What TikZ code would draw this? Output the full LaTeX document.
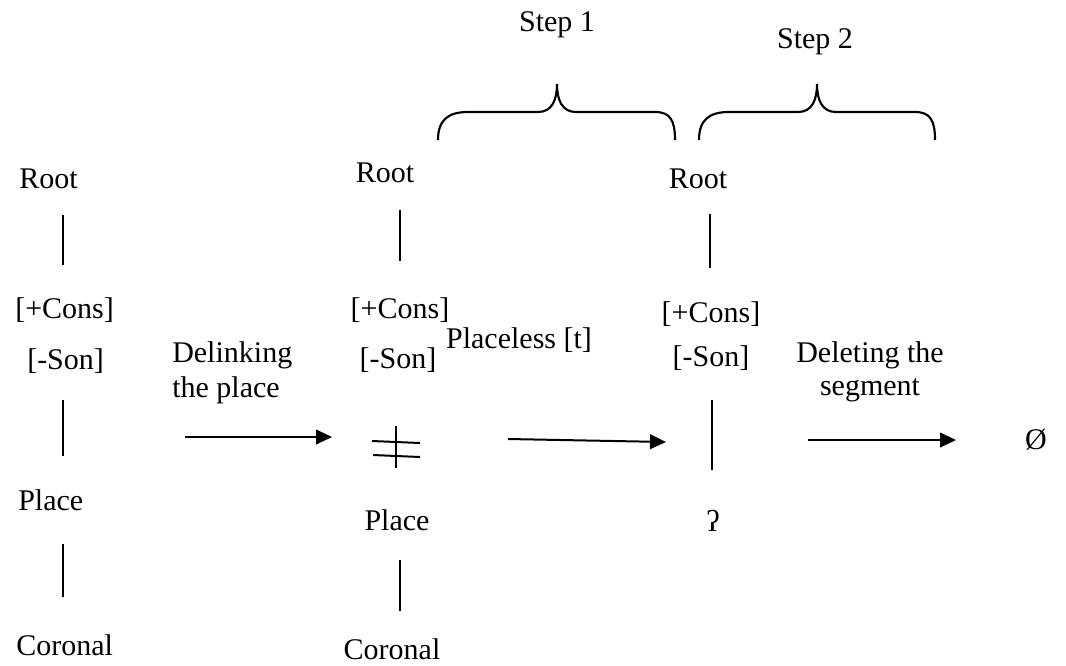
\documentclass[tikz,border=0pt]{standalone}
\usepackage{fontspec}
\setmainfont{Liberation Serif}
\usetikzlibrary{arrows.meta}
\begin{document}
\begin{tikzpicture}[x=0.75pt,y=-0.75pt,
  lbl/.style={inner sep=0pt,font=\fontsize{22.5}{27}\selectfont},
  ln/.style={line width=1.5pt},
  arr/.style={line width=1.5pt,-{Triangle[length=12pt,width=11pt]}},
  brc/.style={line width=1.6pt}]
\useasboundingbox (0,0) rectangle (1066,665);
% column 1
\node[lbl,anchor=west] (r1) at (19,179) {Root};
\node[lbl,anchor=west] (c1) at (15,310) {[+Cons]};
\node[lbl,anchor=west] (s1) at (27,361) {[-Son]};
\node[lbl,anchor=west] (p1) at (18,500) {Place};
\node[lbl,anchor=west] (k1) at (16,645) {Coronal};
\coordinate (a1t) at (63,215); \coordinate (a1b) at (63,265);
\coordinate (b1t) at (63,400); \coordinate (b1b) at (63,456);
\coordinate (d1t) at (63,544); \coordinate (d1b) at (63,597);
\draw[ln] (a1t) -- (a1b);
\draw[ln] (b1t) -- (b1b);
\draw[ln] (d1t) -- (d1b);
% column 2
\node[lbl] (r2) at (385,173) {Root};
\node[lbl] (c2) at (400,310) {[+Cons]};
\node[lbl] (s2) at (398,360) {[-Son]};
\node[lbl] (p2) at (397,520) {Place};
\node[lbl] (k2) at (392,649) {Coronal};
\coordinate (a2t) at (400,210); \coordinate (a2b) at (400,261);
\coordinate (b2t) at (396,426); \coordinate (b2b) at (396,468);
\coordinate (d2t) at (400,560); \coordinate (d2b) at (400,611);
\coordinate (x1l) at (372,441); \coordinate (x1r) at (420,443);
\coordinate (x2l) at (373,455); \coordinate (x2r) at (420,457);
\draw[ln] (a2t) -- (a2b);
\draw[ln] (b2t) -- (b2b);
\draw[ln] (x1l) -- (x1r);
\draw[ln] (x2l) -- (x2r);
\draw[ln] (d2t) -- (d2b);
% column 3
\node[lbl] (r3) at (698,179) {Root};
\node[lbl] (c3) at (711,314) {[+Cons]};
\node[lbl] (s3) at (711,358) {[-Son]};
\node[lbl] (g3) at (713,521) {ʔ};
\coordinate (a3t) at (710,214); \coordinate (a3b) at (710,268);
\coordinate (b3t) at (712,400); \coordinate (b3b) at (712,470);
\draw[ln] (a3t) -- (a3b);
\draw[ln] (b3t) -- (b3b);
% final
\node[lbl] (z) at (1036,440) {Ø};
% arrows
\coordinate (e1s) at (185,437); \coordinate (e1e) at (332,437);
\coordinate (e2s) at (508,439); \coordinate (e2e) at (666,442);
\coordinate (e3s) at (808,440); \coordinate (e3e) at (956,440);
\draw[arr] (e1s) -- (e1e);
\draw[arr] (e2s) -- (e2e);
\draw[arr] (e3s) -- (e3e);
\node[lbl,anchor=west] (t1a) at (172,355) {Delinking};
\node[lbl,anchor=west] (t1b) at (172,390) {the place};
\node[lbl] (t2) at (519,340) {Placeless [t]};
\node[lbl] (t3a) at (870,355) {Deleting the};
\node[lbl] (t3b) at (870,390) {segment};
% braces
\draw[brc] (438,140) .. controls (438,120) and (448,112) .. (468,112) -- (538,112)
  .. controls (552,112) and (557,100) .. (557,84)
  .. controls (557,100) and (562,112) .. (576,112) -- (655,112)
  .. controls (670,112) and (675,120) .. (675,140);
\draw[brc] (699,140) .. controls (699,120) and (709,112) .. (729,112) -- (798,112)
  .. controls (812,112) and (817,100) .. (817,84)
  .. controls (817,100) and (822,112) .. (836,112) -- (915,112)
  .. controls (930,112) and (935,120) .. (935,140);
\node[lbl] (st1) at (557,25) {Step 1};
\node[lbl] (st2) at (815,42) {Step 2};
\end{tikzpicture}
\end{document}
